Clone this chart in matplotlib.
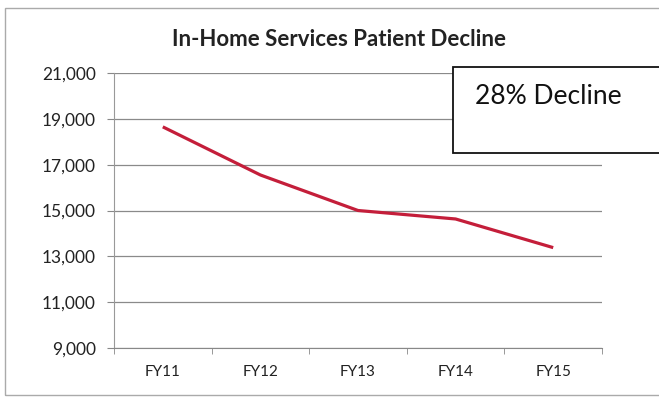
import matplotlib
matplotlib.use("Agg")
import matplotlib.pyplot as plt
from matplotlib.patches import Rectangle
from matplotlib.ticker import FuncFormatter, FixedLocator

categories = ["FY11", "FY12", "FY13", "FY14", "FY15"]
patients = [18650, 16550, 15000, 14630, 13380]
title = "In-Home Services Patient Decline"
annotation = "28% Decline"

plt.rcParams['font.family'] = ['Lato', 'DejaVu Sans']

fig = plt.figure(figsize=(6.59, 4.0), dpi=100)
ax = fig.add_axes([114/659, 1-348/400, (602-114)/659, (348-73)/400])

x = list(range(len(categories)))
ax.plot(x, patients, color="#C41E3A", linewidth=2.3, solid_capstyle="butt")
ax.set_xlim(-0.5, len(categories) - 0.5)
ax.set_ylim(9000, 21000)
ax.set_yticks(range(9000, 21001, 2000))
ax.yaxis.set_major_formatter(FuncFormatter(lambda v, p: f"{int(v):,}"))
ax.set_xticks(x)
ax.set_xticklabels(categories)
ax.xaxis.set_minor_locator(FixedLocator([i - 0.5 for i in range(len(categories) + 1)]))
ax.tick_params(axis="x", which="major", length=0, pad=12, labelsize=11, colors="#222222")
ax.tick_params(axis="x", which="minor", length=4, color="#888888")
ax.tick_params(axis="y", length=5, color="#888888", labelsize=12.5, labelcolor="#222222", pad=8)
ax.grid(axis="y", color="#8a8a8a", linewidth=0.9)
ax.set_axisbelow(True)
for s in ["top", "right"]:
    ax.spines[s].set_visible(False)
ax.spines["left"].set_color("#999999")
ax.spines["bottom"].set_color("#888888")

fig.text(339/659, 1-40/400, title, ha="center", va="center", fontsize=16, fontweight="bold", color="#222222")

# outer chart frame
fig.patches.append(Rectangle((5/659, 5/400), 700/659, 387/400, transform=fig.transFigure,
                             fill=False, edgecolor="#aaaaaa", linewidth=1.0))
# annotation box
fig.patches.append(Rectangle((453/659, 1-153/400), 260/659, 86/400, transform=fig.transFigure,
                             facecolor="white", edgecolor="#111111", linewidth=1.3, zorder=5))
fig.text(475/659, 1-97/400, annotation, ha="left", va="center", fontsize=19, color="#111111", zorder=6)

fig.savefig("out.png", dpi=100)
